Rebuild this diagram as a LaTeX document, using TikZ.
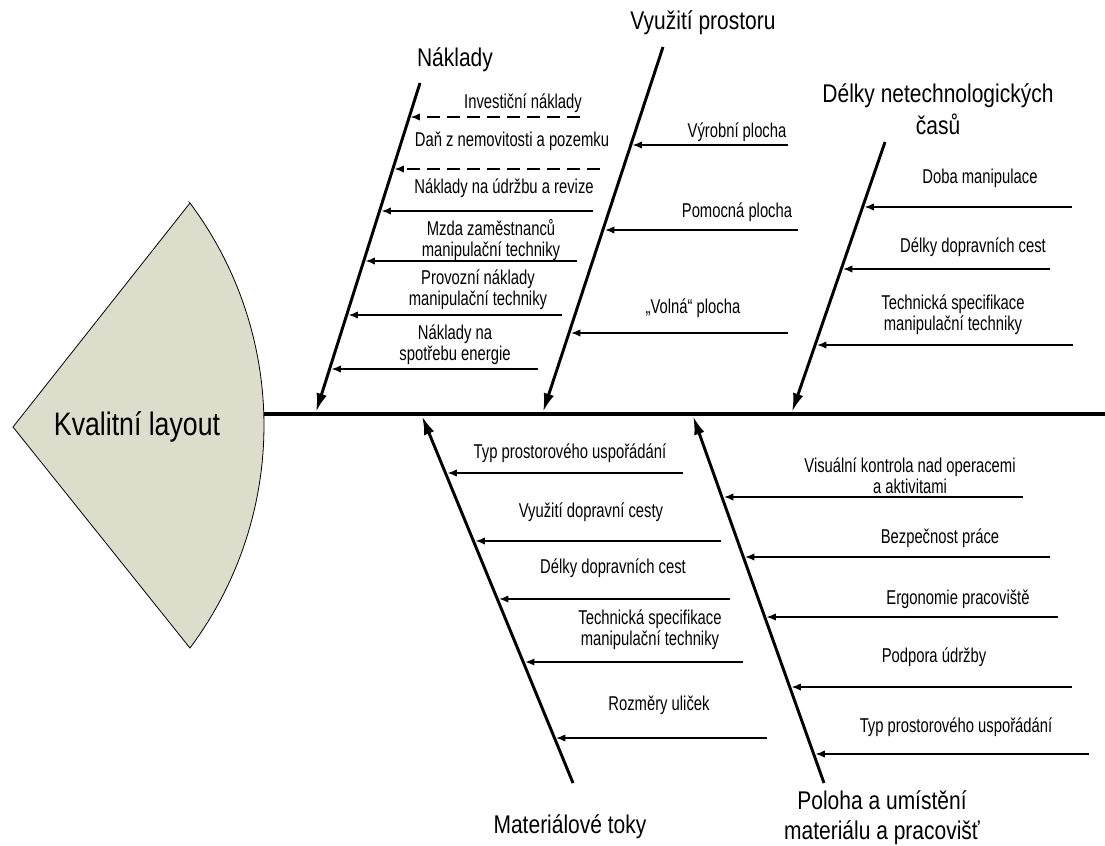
\documentclass[tikz,border=0pt]{standalone}
\usepackage{fontspec}
\setmainfont{Liberation Sans}[FakeStretch=0.82]
\newfontfamily\itemfont{Liberation Sans}[FakeStretch=0.74]
\usetikzlibrary{arrows.meta}
\definecolor{headfill}{RGB}{220,222,203}
\begin{document}
\begin{tikzpicture}[x=0.75pt,y=-0.75pt,
  cause/.style={line width=1.1pt,-{Latex[length=7pt,width=5.5pt]}},
  causedash/.style={cause,dash pattern=on 9.5pt off 5.5pt},
  bone/.style={line width=2.2pt,-{Latex[length=14pt,width=8pt]}},
  spine/.style={line width=3pt},
  item/.style={font=\itemfont\fontsize{15}{15.75}\selectfont,align=center,inner sep=0pt},
  title/.style={font=\fontsize{19.2}{24}\selectfont,align=center,inner sep=0pt}]
\useasboundingbox (0,0) rectangle (1105,845);

% head of the fish
\draw[fill=headfill,line width=0.6pt] (13,427) -- (190,203)
  -- plot[domain=36.8:-36.8,samples=60] ({-107.5+371.5*cos(\x)},{425.5-371.5*sin(\x)})
  -- cycle;
\node[inner sep=0pt,font=\fontsize{24.4}{28}\selectfont] (head) at (137,427) {Kvalitní layout};

% spine
\coordinate (spL) at (264,414);
\coordinate (spR) at (1105,414);
\draw[spine] (spL) -- (spR);

% ---- Náklady ----
\node[title] (tN) at (455,60) {Náklady};
\coordinate (N0) at (420,83);
\coordinate (N1) at (316,412);
\draw[bone] (N0) -- (N1);
\node[item] (n1) at (523,103) {Investiční náklady};
\node[item] (n2) at (512,141) {Daň z nemovitosti a pozemku};
\node[item] (n3) at (504,188) {Náklady na údržbu a revize};
\node[item] (n4) at (491,240) {Mzda zaměstnanců\\manipulační techniky};
\node[item] (n5) at (478,290) {Provozní náklady\\manipulační techniky};
\node[item] (n6) at (455,345) {Náklady na\\spotřebu energie};
\coordinate (n1s) at (580,117); \coordinate (n1e) at (410.5,117);
\coordinate (n2s) at (600,169); \coordinate (n2e) at (394.5,169);
\coordinate (n3s) at (593,211); \coordinate (n3e) at (381.5,211);
\coordinate (n4s) at (577,261); \coordinate (n4e) at (365.5,261);
\coordinate (n5s) at (562,315); \coordinate (n5e) at (348.5,315);
\coordinate (n6s) at (538,369); \coordinate (n6e) at (331.5,369);
\draw[causedash] (n1s) -- (n1e);
\draw[causedash] (n2s) -- (n2e);
\draw[cause] (n3s) -- (n3e);
\draw[cause] (n4s) -- (n4e);
\draw[cause] (n5s) -- (n5e);
\draw[cause] (n6s) -- (n6e);

% ---- Využití prostoru ----
\node[title] (tV) at (703,23) {Využití prostoru};
\coordinate (V0) at (663,47);
\coordinate (V1) at (543,412);
\draw[bone] (V0) -- (V1);
\node[item] (v1) at (737,132) {Výrobní plocha};
\node[item] (v2) at (737,212) {Pomocná plocha};
\node[item] (v3) at (693,308) {„Volná“ plocha};
\coordinate (v1s) at (788,145); \coordinate (v1e) at (632.5,145);
\coordinate (v2s) at (798,230); \coordinate (v2e) at (605,230);
\coordinate (v3s) at (788,333); \coordinate (v3e) at (571,333);
\draw[cause] (v1s) -- (v1e);
\draw[cause] (v2s) -- (v2e);
\draw[cause] (v3s) -- (v3e);

% ---- Délky netechnologických časů ----
\node[title] (tD) at (938,109) {Délky netechnologických\\časů};
\coordinate (D0) at (885,142);
\coordinate (D1) at (792,412);
\draw[bone] (D0) -- (D1);
\node[item] (d1) at (980,178) {Doba manipulace};
\node[item] (d2) at (973,247) {Délky dopravních cest};
\node[item] (d3) at (953,315) {Technická specifikace\\manipulační techniky};
\coordinate (d1s) at (1072,207); \coordinate (d1e) at (864.5,207);
\coordinate (d2s) at (1050,269); \coordinate (d2e) at (843,269);
\coordinate (d3s) at (1073,345); \coordinate (d3e) at (817,345);
\draw[cause] (d1s) -- (d1e);
\draw[cause] (d2s) -- (d2e);
\draw[cause] (d3s) -- (d3e);

% ---- Materiálové toky ----
\node[title] (tM) at (570,827) {Materiálové toky};
\coordinate (M0) at (573,783);
\coordinate (M1) at (422,416);
\draw[bone] (M0) -- (M1);
\node[item] (m1) at (570,453) {Typ prostorového uspořádání};
\node[item] (m2) at (591,512) {Využití dopravní cesty};
\node[item] (m3) at (613,568) {Délky dopravních cest};
\node[item] (m4) at (650,630) {Technická specifikace\\manipulační techniky};
\node[item] (m5) at (659,705) {Rozměry uliček};
\coordinate (m1s) at (683,473); \coordinate (m1e) at (447.5,473);
\coordinate (m2s) at (721,541); \coordinate (m2e) at (475.5,541);
\coordinate (m3s) at (730,599); \coordinate (m3e) at (499,599);
\coordinate (m4s) at (743,662); \coordinate (m4e) at (525,662);
\coordinate (m5s) at (767,738); \coordinate (m5e) at (556,738);
\draw[cause] (m1s) -- (m1e);
\draw[cause] (m2s) -- (m2e);
\draw[cause] (m3s) -- (m3e);
\draw[cause,line width=2pt] (m4s) -- (m4e);
\draw[cause] (m5s) -- (m5e);

% ---- Poloha a umístění materiálu a pracovišť ----
\node[title,font=\fontsize{19.2}{22.5}\selectfont] (tP) at (882,818) {Poloha a umístění\\materiálu a pracovišť};
\coordinate (P0) at (824,783);
\coordinate (P1) at (693,416);
\draw[bone] (P0) -- (P1);
\node[item] (p1) at (910,476) {Visuální kontrola nad operacemi\\a aktivitami};
\node[item] (p2) at (940,538) {Bezpečnost práce};
\node[item] (p3) at (958,599) {Ergonomie pracoviště};
\node[item] (p4) at (934,657) {Podpora údržby};
\node[item] (p5) at (956,727) {Typ prostorového uspořádání};
\coordinate (p1s) at (1023,497); \coordinate (p1e) at (724,497);
\coordinate (p2s) at (1050,557); \coordinate (p2e) at (745,557);
\coordinate (p3s) at (1058,617); \coordinate (p3e) at (766.5,617);
\coordinate (p4s) at (1072,687); \coordinate (p4e) at (791.5,687);
\coordinate (p5s) at (1089,754); \coordinate (p5e) at (815.5,754);
\draw[cause] (p1s) -- (p1e);
\draw[cause] (p2s) -- (p2e);
\draw[cause] (p3s) -- (p3e);
\draw[cause] (p4s) -- (p4e);
\draw[cause] (p5s) -- (p5e);
\end{tikzpicture}
\end{document}
